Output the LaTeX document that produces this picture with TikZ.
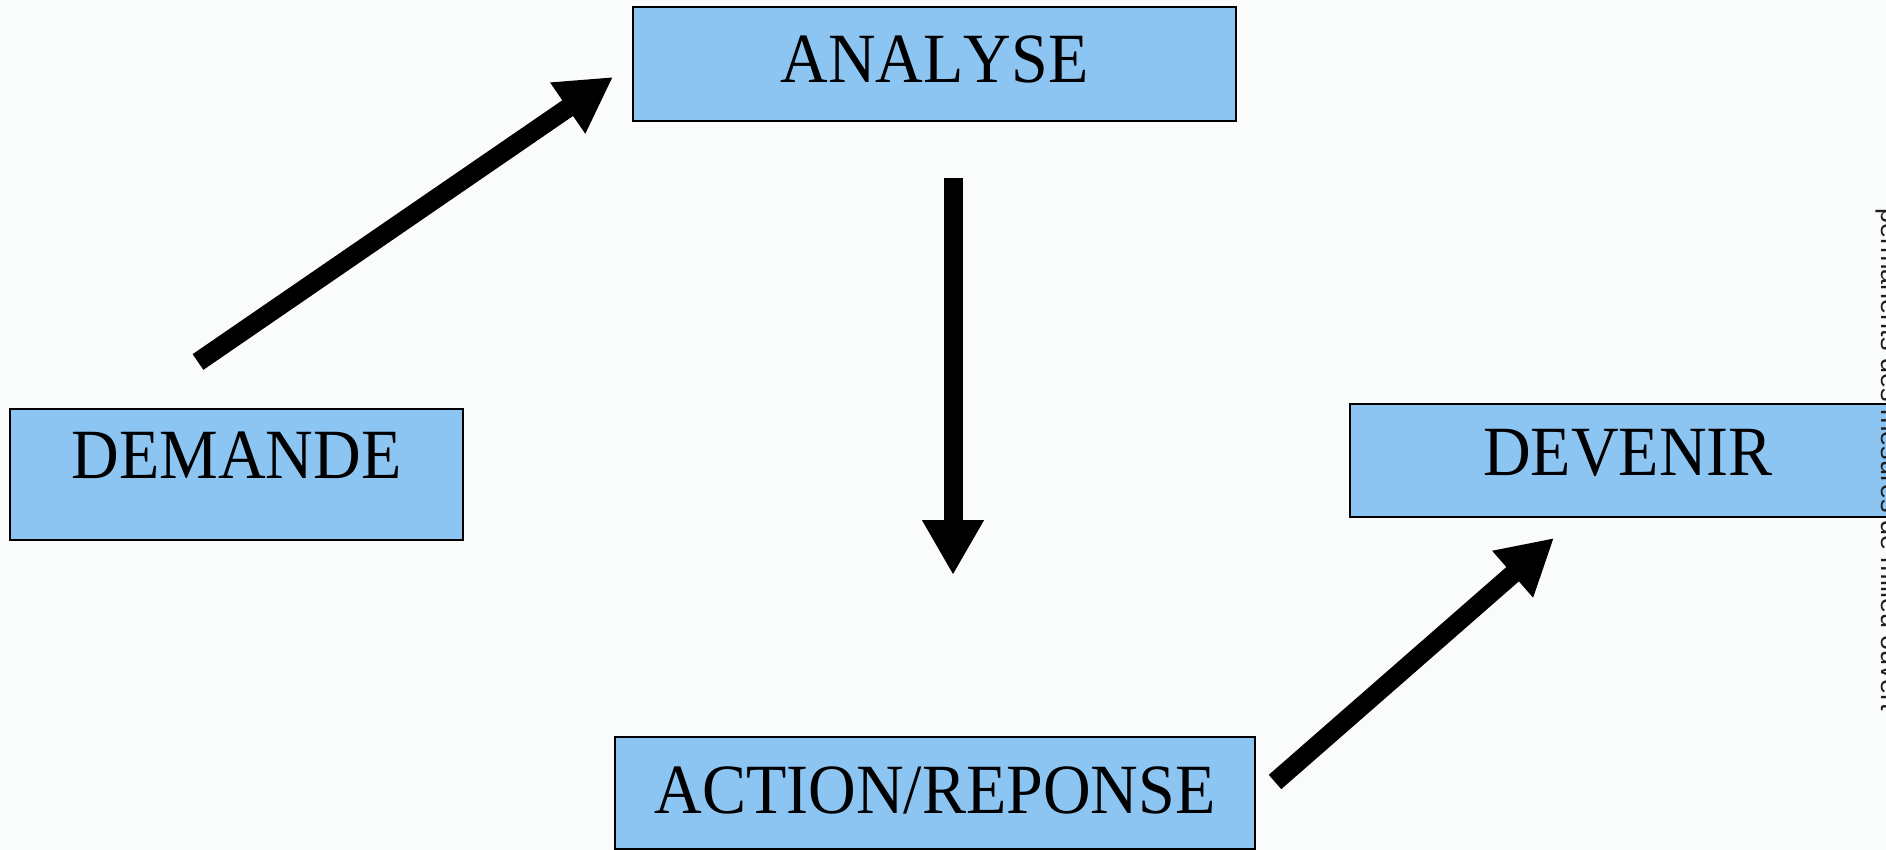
\documentclass[tikz,border=0pt]{standalone}
\usepackage{fontspec}
\setmainfont{Liberation Serif}[Kerning=Off]
\newfontfamily\sidefont{Liberation Sans}
\usetikzlibrary{arrows.meta}
\definecolor{boxblue}{RGB}{140,196,242}
\definecolor{paper}{RGB}{250,252,252}
\definecolor{sideink}{RGB}{30,30,30}
\newcommand{\tallword}[1]{\scalebox{1}[1.07]{#1}}
\begin{document}
\begin{tikzpicture}[x=1pt,y=-1pt,
  stagebox/.style={draw=black, line width=2.5pt, fill=boxblue, inner sep=0pt,
    font=\fontsize{66pt}{70pt}\selectfont, text height=47pt},
  flow/.style={line width=19pt, -{Triangle[width=58pt,length=55pt]}}]
\useasboundingbox (0,0) rectangle (1886,850);
\clip (0,0) rectangle (1886,850);
\fill[paper] (0,0) rectangle (1886,850);
% boxes
\node[stagebox, minimum width=603pt, minimum height=114pt, text depth=9pt] (analyse) at (934.5,64) {\tallword{ANALYSE}};
\node[stagebox, minimum width=453pt, minimum height=131pt, text depth=40pt] (demande) at (236.5,474.5) {\tallword{DEMANDE}};
\node[stagebox, minimum width=556pt, minimum height=113pt, text depth=18pt] (devenir) at (1628,460.5) {\tallword{DEVENIR}};
\node[stagebox, minimum width=640pt, minimum height=112pt, text depth=7pt] (action) at (935,793) {\tallword{ACTION/REPONSE}};
% side text (cut by the page edge)
\node[rotate=-90, anchor=base west, inner sep=0pt, text=sideink,
  font=\sidefont\fontsize{27pt}{30pt}\selectfont] (side) at (1881,208) {permanents des mesures de milieu ouvert};
% arrow end points
\coordinate (a1s) at (198,362);
\coordinate (a1e) at (613,77);
\coordinate (a2s) at (953,178);
\coordinate (a2e) at (953,575);
\coordinate (a3s) at (1275,782);
\coordinate (a3e) at (1554,538);
\draw[flow] (a1s) -- (a1e);
\draw[flow] (a2s) -- (a2e);
\draw[flow] (a3s) -- (a3e);
\end{tikzpicture}
\end{document}
